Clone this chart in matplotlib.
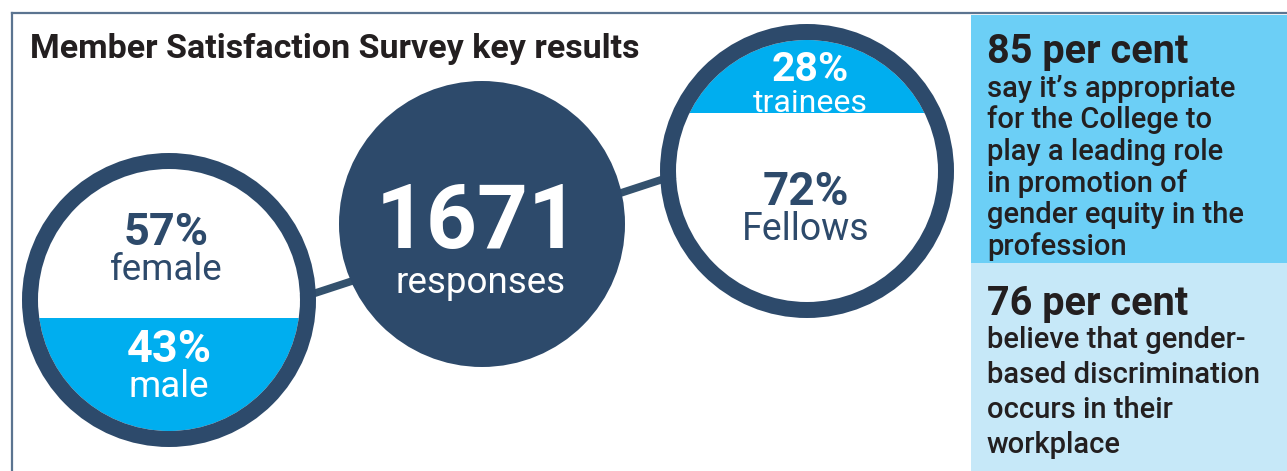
import matplotlib
matplotlib.use("Agg")
import matplotlib.pyplot as plt
from matplotlib.patches import Circle, Rectangle
from matplotlib.lines import Line2D

# ---- data ----
title = "Member Satisfaction Survey key results"
total_responses = 1671
responses_label = "responses"
gender_labels = ["female", "male"]
gender_pct = [57, 43]
role_labels = ["trainees", "Fellows"]
role_pct = [28, 72]
stat_pct = [85, 76]
stat_text = [
    ["say it\u2019s appropriate", "for the College to", "play a leading role",
     "in promotion of", "gender equity in the", "profession"],
    ["believe that gender-", "based discrimination", "occurs in their",
     "workplace"],
]

# ---- colours ----
NAVY = "#2d4a6b"
LINK = "#34526e"
BRIGHT = "#00aeef"
PANEL_TOP = "#6ccff6"
PANEL_BOT = "#c6e8f8"
INK = "#231f20"
FRAME = "#5b7490"

W, H = 1287, 471
fig = plt.figure(figsize=(W / 100, H / 100), dpi=100)
ax = fig.add_axes([0, 0, 1, 1])
ax.set_xlim(0, W)
ax.set_ylim(H, 0)
ax.set_aspect("equal")
ax.axis("off")

plt.rcParams["font.family"] = ["Roboto", "DejaVu Sans"]

# frame
ax.add_line(Line2D([12, W], [13, 13], color=FRAME, lw=1.6, zorder=1))
ax.add_line(Line2D([12, 12], [13, H], color=FRAME, lw=1.6, zorder=1))

# connector line running behind the three circles
ax.add_line(Line2D([169, 807], [341, 132], color=LINK, lw=5.5, zorder=2,
                   solid_capstyle="butt"))

RING = 16


def split_circle(cx, cy, r, top_frac, top_color, bottom_color):
    """Ring circle whose interior is split horizontally at top_frac of its inner height."""
    ri = r - RING
    inner = Circle((cx, cy), ri, facecolor="none", edgecolor="none")
    ax.add_patch(inner)
    split_y = cy - ri + top_frac * 2 * ri
    top = Rectangle((cx - ri, cy - ri), 2 * ri, split_y - (cy - ri),
                    facecolor=top_color, edgecolor="none", zorder=3)
    bot = Rectangle((cx - ri, split_y), 2 * ri, cy + ri - split_y,
                    facecolor=bottom_color, edgecolor="none", zorder=3)
    for p in (top, bot):
        ax.add_patch(p)
        p.set_clip_path(inner)
    ax.add_patch(Circle((cx, cy), r - RING / 2, facecolor="none",
                        edgecolor=NAVY, lw=RING * 0.72, zorder=4))
    return split_y


# left circle: gender
split_circle(169, 300, 147, gender_pct[0] / 100, "white", BRIGHT)
ax.text(166, 245, f"{gender_pct[0]}%", ha="center", va="baseline",
        fontsize=32.5, fontweight="bold", color=NAVY, zorder=5)
ax.text(166, 280, gender_labels[0], ha="center", va="baseline",
        fontsize=26.5, fontweight="normal", color=NAVY, zorder=5)
ax.text(169, 362, f"{gender_pct[1]}%", ha="center", va="baseline",
        fontsize=32.5, fontweight="bold", color="white", zorder=5)
ax.text(169, 397, gender_labels[1], ha="center", va="baseline",
        fontsize=26.5, fontweight="normal", color="white", zorder=5)

# centre circle: responses
ax.add_patch(Circle((482, 224), 143, facecolor=NAVY, edgecolor="none", zorder=4))
ax.text(478, 248, f"{total_responses}", ha="center", va="baseline",
        fontsize=64, fontweight="bold", color="white", zorder=5)
ax.text(481, 293, responses_label, ha="center", va="baseline",
        fontsize=26.5, fontweight="normal", color="white", zorder=5)

# right circle: roles
split_circle(807, 171, 147, role_pct[0] / 100, BRIGHT, "white")
ax.text(810, 81, f"{role_pct[0]}%", ha="center", va="baseline",
        fontsize=29.5, fontweight="bold", color="white", zorder=5)
ax.text(810, 112, role_labels[0], ha="center", va="baseline",
        fontsize=23, fontweight="normal", color="white", zorder=5)
ax.text(806, 205, f"{role_pct[1]}%", ha="center", va="baseline",
        fontsize=33, fontweight="bold", color=NAVY, zorder=5)
ax.text(806, 240, role_labels[1], ha="center", va="baseline",
        fontsize=27, fontweight="normal", color=NAVY, zorder=5)

# title
ax.text(30, 58, title, ha="left", va="baseline", fontsize=24.5,
        fontweight="bold", color=INK, zorder=5)

# right-hand stat panels
ax.add_patch(Rectangle((971, 15), W - 971, 263 - 15, facecolor=PANEL_TOP,
                       edgecolor="none", zorder=1))
ax.add_patch(Rectangle((971, 263), W - 971, H - 263, facecolor=PANEL_BOT,
                       edgecolor="none", zorder=1))

head_base = [63, 315]
line_base = [[97, 128, 160, 192, 223, 255], [348, 383, 418, 453]]
for pct, lines, hb, lbs in zip(stat_pct, stat_text, head_base, line_base):
    ax.text(987, hb, f"{pct} per cent", ha="left", va="baseline",
            fontsize=28.5, fontweight="bold", color=INK, zorder=5)
    for txt, yb in zip(lines, lbs):
        ax.text(987, yb, txt, ha="left", va="baseline", fontsize=21,
                fontweight="medium", color=INK, zorder=5)

fig.savefig("out.png", dpi=100, facecolor="white")
